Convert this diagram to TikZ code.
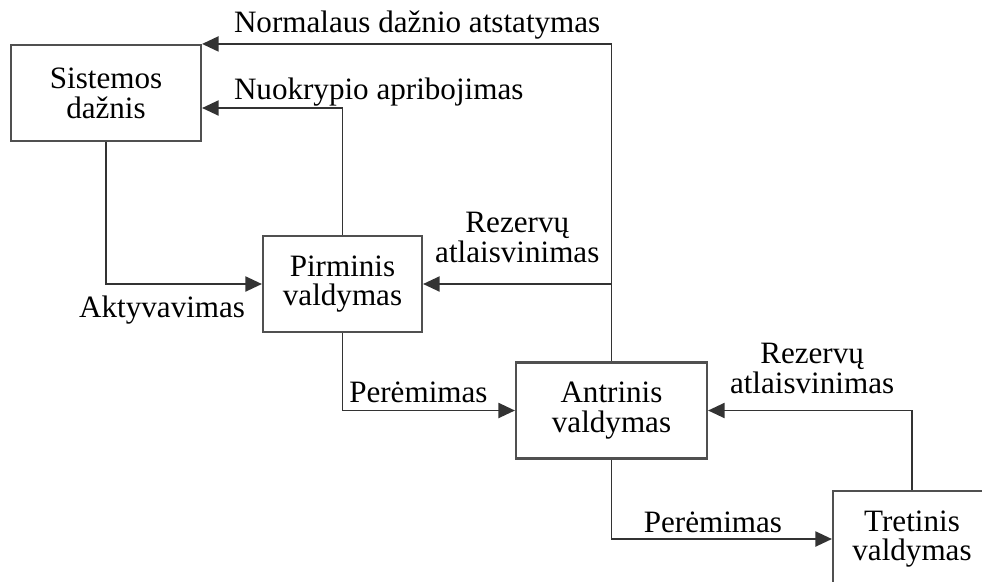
\documentclass[tikz,border=0pt]{standalone}
\usepackage{fontspec}
\setmainfont{Liberation Serif}
\definecolor{linegray}{RGB}{51, 51, 51}
\definecolor{boxgray}{RGB}{80, 80, 80}
\usetikzlibrary{arrows.meta, calc}

\begin{document}
\begin{tikzpicture}[
    font=\fontsize{17.7}{17}\selectfont,
    block/.style={draw=boxgray, line width=1.2pt, fill=white, minimum width=#1,
                  minimum height=1.92cm, align=center, inner sep=2pt},
    link/.style={draw=linegray, line width=1.1pt,
                 -{Triangle[length=0.33cm, width=0.3cm]}},
    lbl/.style={inner sep=0pt, align=center}
]
    \clip (0,0) rectangle (19.64,11.62);

    \node[block=3.8cm] (freq) at (2.12,9.76) {Sistemos\\dažnis};
    \node[block=3.18cm] (prim) at (6.85,5.94) {Pirminis\\valdymas};
    \node[block=3.82cm] (antr) at (12.23,3.41) {Antrinis\\valdymas};
    \node[block=3.16cm] (tret) at (18.24,0.84) {Tretinis\\valdymas};

    \coordinate (split) at (antr.north |- prim.east);

    \draw[link] (antr.north) |- node[lbl, pos=1, anchor=base west, xshift=0.62cm, yshift=0.22cm]
        {Normalaus dažnio atstatymas} (freq.north east);
    \draw[link] (prim.north) |- node[lbl, pos=1, anchor=base west, xshift=0.62cm, yshift=0.18cm]
        {Nuokrypio apribojimas} ([yshift=-0.3cm]freq.east);
    \draw[link] (freq.south) |- node[lbl, pos=0.68, anchor=north, yshift=-0.22cm]
        {Aktyvavimas} (prim.west);
    \draw[link] (split) -- node[lbl, midway, anchor=south, yshift=0.4cm]
        {Rezervų\\atlaisvinimas} (prim.east);
    \draw[link] (prim.south) |- node[lbl, pos=0.72, anchor=base, yshift=0.16cm]
        {Perėmimas} (antr.west);
    \draw[link] (antr.south) |- node[lbl, pos=0.73, anchor=base, yshift=0.14cm]
        {Perėmimas} (tret.west);
    \draw[link] (tret.north) |- node[lbl, pos=0.745, anchor=south, yshift=0.32cm]
        {Rezervų\\atlaisvinimas} (antr.east);
\end{tikzpicture}
\end{document}
